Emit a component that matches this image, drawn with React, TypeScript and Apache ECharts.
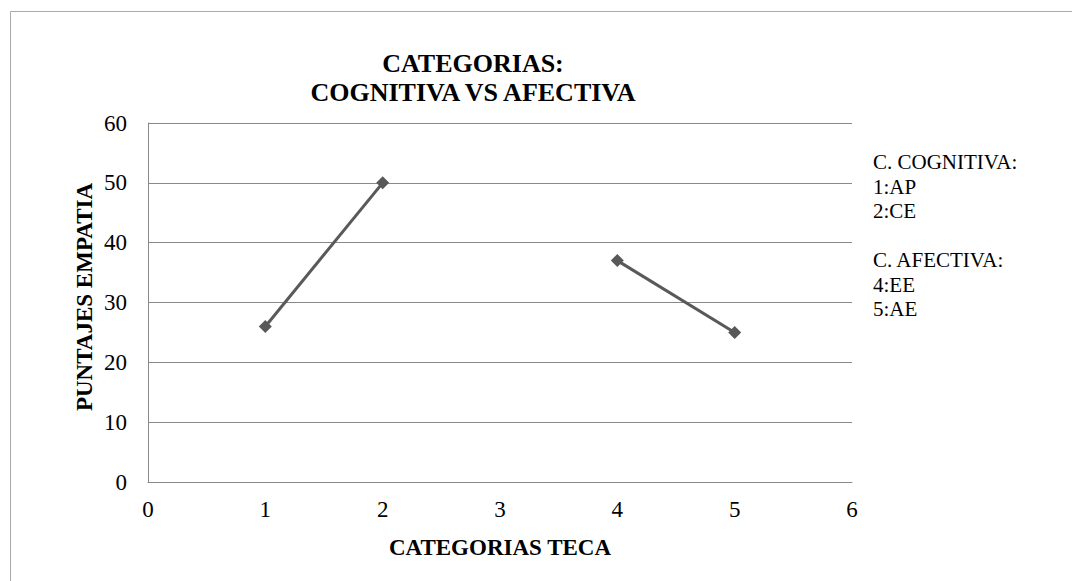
import React, { useEffect, useRef } from "react";
import * as echarts from "echarts";

const cognitivaX = [1, 2];
const cognitivaY = [26, 50];
const afectivaX = [4, 5];
const afectivaY = [37, 25];
const legendLines = ["C. COGNITIVA:", "1:AP", "2:CE", "", "C. AFECTIVA:", "4:EE", "5:AE"];
const titleText = "CATEGORIAS:\nCOGNITIVA VS AFECTIVA";
const xName = "CATEGORIAS TECA";
const yName = "PUNTAJES EMPATIA";

const FONT = "Liberation Serif";
const LINE = "#595959";

export default function App() {
  const ref = useRef<HTMLDivElement>(null);
  useEffect(() => {
    document.body.style.margin = "0";
    const chart = echarts.init(ref.current!, undefined, { renderer: "svg" });
    const mk = (xs: number[], ys: number[]) => xs.map((x, i) => [x, ys[i]]);
    chart.setOption({
      animation: false,
      backgroundColor: "#fff",
      textStyle: { fontFamily: FONT },
      title: {
        text: titleText,
        left: 468,
        textAlign: "center",
        top: 44,
        textStyle: { fontFamily: FONT, fontWeight: "bold", fontSize: 26, color: "#000", lineHeight: 29 },
      },
      grid: { left: 148, right: 220, top: 123, bottom: 99 },
      xAxis: {
        type: "value",
        min: 0,
        max: 6,
        interval: 1,
        name: xName,
        nameLocation: "middle",
        nameGap: 54,
        nameTextStyle: { fontFamily: FONT, fontWeight: "bold", fontSize: 23, color: "#000" },
        axisLine: { show: true, lineStyle: { color: "#898989", width: 1 } },
        axisTick: { show: false },
        splitLine: { show: false },
        axisLabel: { fontFamily: FONT, fontSize: 23, color: "#000", margin: 16 },
      },
      yAxis: {
        type: "value",
        min: 0,
        max: 60,
        interval: 10,
        axisLine: { show: true, lineStyle: { color: "#898989", width: 1 } },
        axisTick: { show: false },
        splitLine: { show: true, lineStyle: { color: "#898989", width: 1 } },
        axisLabel: { fontFamily: FONT, fontSize: 23, color: "#000", margin: 21 },
      },
      graphic: [
        {
          type: "rect",
          shape: { x: 10.5, y: 11.5, width: 1200, height: 700 },
          style: { fill: "none", stroke: "#aaaaaa", lineWidth: 1 },
          silent: true,
          z: -1,
        },
        {
          type: "text",
          x: 84,
          y: 297,
          rotation: Math.PI / 2,
          style: {
            text: yName,
            fontFamily: FONT,
            fontWeight: "bold",
            fontSize: 23,
            fill: "#000",
            textAlign: "center",
            textVerticalAlign: "middle",
          },
        },
        {
          type: "text",
          left: 873,
          top: 150,
          style: {
            text: legendLines.join("\n"),
            fontFamily: FONT,
            fontSize: 21,
            lineHeight: 24.5,
            fill: "#000",
          },
        },
      ],
      series: [
        {
          type: "line",
          data: mk(cognitivaX, cognitivaY),
          symbol: "diamond",
          symbolSize: 13,
          lineStyle: { color: LINE, width: 3 },
          itemStyle: { color: LINE },
        },
        {
          type: "line",
          data: mk(afectivaX, afectivaY),
          symbol: "diamond",
          symbolSize: 13,
          lineStyle: { color: LINE, width: 3 },
          itemStyle: { color: LINE },
        },
      ],
    });
    return () => chart.dispose();
  }, []);
  return <div ref={ref} style={{ position: "absolute", left: 0, top: 0, width: 1072, height: 581 }} />;
}
